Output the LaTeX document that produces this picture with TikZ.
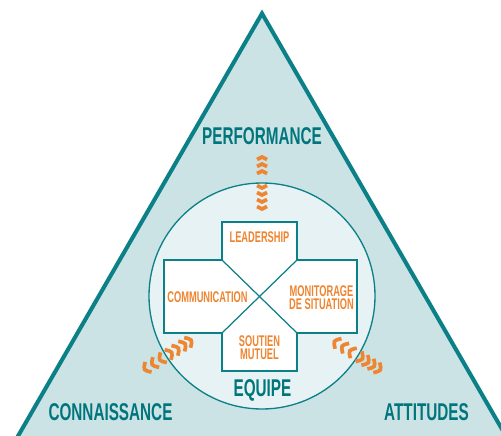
\documentclass[tikz,border=0pt]{standalone}
\usepackage{fontspec}
% condensed sans for all labels
\newfontfamily\dinwide[FakeStretch=0.63]{Liberation Sans}
\newfontfamily\dinnarrow[FakeStretch=0.6]{Liberation Sans}
\definecolor{tealdark}{HTML}{00767C}
\definecolor{tealline}{HTML}{0B8087}
\definecolor{trifill}{HTML}{CCE3E6}
\definecolor{circfill}{HTML}{E6F2F3}
\definecolor{orangec}{HTML}{EE8530}
\begin{document}
\begin{tikzpicture}[x=0.02cm,y=0.02cm,
  outerlabel/.style={text=tealdark, inner sep=0pt,
    font=\dinwide\bfseries\fontsize{13.8}{14}\selectfont},
  innerlabel/.style={text=orangec, inner sep=0pt, align=center,
    font=\dinnarrow\bfseries\fontsize{8.8}{7.3}\selectfont},
  chev/.style={draw=orangec, line width=2.1pt},
  boxline/.style={draw=tealline, line width=0.7pt}]

\useasboundingbox (0,0) rectangle (501,-436);
\begin{scope}
  \clip (0,0) rectangle (501,-436);
  % large triangle
  \draw[draw=tealline, fill=trifill, line width=2.3pt, line join=miter]
    (262,-13.5) -- (519.8,-460) -- (4.2,-460) -- cycle;
\end{scope}

% team circle
\coordinate (C) at (262,-296);
\draw[draw=tealline, fill=circfill, line width=0.75pt] (C) circle (113);

% cross of four boxes
\draw[boxline, fill=white]
  (222,-222) -- (297,-222) -- (297,-260) -- (357,-260) -- (357,-333)
  -- (297,-333) -- (297,-371) -- (222,-371) -- (222,-333) -- (164,-333)
  -- (164,-260) -- (222,-260) -- cycle;
\coordinate (nw) at (222,-260);
\coordinate (ne) at (297,-260);
\coordinate (sw) at (222,-333);
\coordinate (se) at (297,-333);
\draw[boxline] (nw) -- (se);
\draw[boxline] (ne) -- (sw);

% orange links crossing the circle
\begin{scope}[shift={(C)}, rotate=90]
  \foreach \d in {12,19,26} \draw[chev] (113+\d-2.5,-5) -- (113+\d,0) -- (113+\d-2.5,5);
  \foreach \d in {-5,-12,-19,-26} \draw[chev] (113+\d+2.5,-5) -- (113+\d,0) -- (113+\d+2.5,5);
\end{scope}
\begin{scope}[shift={(C)}, rotate=212]
  \foreach \d in {6,15,24} \draw[chev] (113+\d-3,-6) .. controls (113+\d+3,0) .. (113+\d-3,6);
  \foreach \d in {-5,-13,-21,-28} \draw[chev] (113+\d+3,-6) .. controls (113+\d-3,0) .. (113+\d+3,6);
\end{scope}
\begin{scope}[shift={(C)}, rotate=328]
  \foreach \d in {4,11,18,25} \draw[chev] (113+\d-3,-6) .. controls (113+\d+3,0) .. (113+\d-3,6);
  \foreach \d in {-8,-17,-26} \draw[chev] (113+\d+3,-6) .. controls (113+\d-3,0) .. (113+\d+3,6);
\end{scope}

% labels
\node[outerlabel] (perf) at (262,-136) {PERFORMANCE};
\node[outerlabel] (equipe) at (262.5,-390.5) {EQUIPE};
\node[outerlabel] (conn) at (110.5,-412.5) {CONNAISSANCE};
\node[outerlabel] (att) at (426.5,-412.5) {ATTITUDES};

\node[innerlabel] (lead) at (259.5,-237.5) {LEADERSHIP};
\node[innerlabel] (comm) at (207.5,-297) {COMMUNICATION};
\node[innerlabel] (moni) at (321.5,-297.5) {MONITORAGE\\DE SITUATION};
\node[innerlabel] (sout) at (259.5,-348) {SOUTIEN\\MUTUEL};
\end{tikzpicture}
\end{document}
